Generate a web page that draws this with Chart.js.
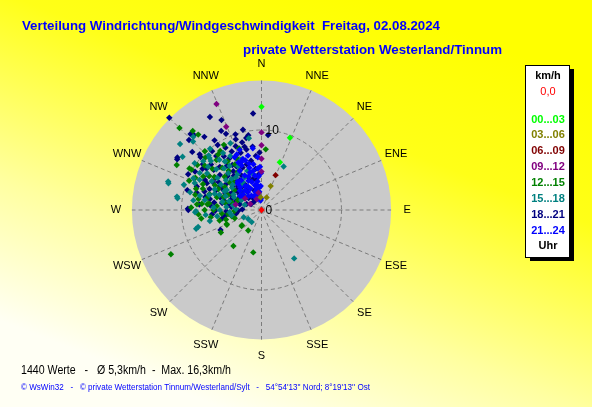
<!DOCTYPE html>
<html><head><meta charset="utf-8">
<script src="https://cdn.jsdelivr.net/npm/chart.js@4.4.1/dist/chart.umd.min.js"></script>
<style>html,body{margin:0;padding:0;background:#ffff00;overflow:hidden}#wrap{width:592px;height:407px;position:relative}</style>
</head><body><div id="wrap"><canvas id="c"></canvas></div>
<script>
// ---- data (direction in degrees, speed in km/h) ----
const directions = ['N','NNE','NE','ENE','E','ESE','SE','SSE','S','SSW','SW','WSW','W','WNW','NW','NNW'];
const timeLabels = ['00...03','03...06','06...09','09...12','12...15','15...18','18...21','21...24'];
const timeColors = ['#00FF00','#808000','#800000','#800080','#008000','#008080','#000080','#0000FF'];
const speedTicks = [0, 10];
const speedMax = 16.2;
const titleText = 'Verteilung Windrichtung/Windgeschwindigkeit  Freitag, 02.08.2024';
const subtitleText = 'private Wetterstation Westerland/Tinnum';
const statsText = '1440 Werte   -   \u00D8 5,3km/h  -  Max. 16,3km/h';
const creditText = '\u00A9 WsWin32   -   \u00A9 private Wetterstation Tinnum/Westerland/Sylt   -   54\u00B054\'13\'\' Nord; 8\u00B019\'13\'\' Ost';

const calm = [[0,0]];
const h00_03 = [[0,12.9],[21.5,9.7],[21,6.4]];
const h03_06 = [[21,3.2],[22,1.7],[356,1.6]];
const h06_09 = [[22,4.7]];
const h09_12 = [[337,14.4],[337,11.3],[0,9.7],[0,8.1],[0,6.4],[0,4.8],[336,1.5],[305,2.5],[350,2.2],[282,3.3],[298,1.6]];
const h12_15 = [[315,14.5],[319,13.1],[320,12.3],[298,12.0],[300,10.4],[292,9.75],[266,7.9],[4,7.6],[244,12.6],[218,5.7],[191,5.4],[241,5.8],[247,4.7],[255,4.6],[253,3.5],[231,3.2],[213,3.05],[283,8.5],[288,8.6],[276,7.5],[270,7.1],[277,6.6],[275,8.1],[300,10.1],[232,3.1],[248,4.7],
 [310,8.0],[305,7.2],[298,6.6],[318,8.4],[325,7.4],[312,6.2],[302,5.4],[294,4.6],[286,5.8],[282,7.0],[308,9.0],[296,9.2],[315,5.0],[320,6.4],[328,5.6],[290,7.8],[300,8.4],[335,7.0],[340,8.2],[275,5.6],[265,5.0],[262,6.4],[330,9.4],[316,10.2],
 [303,7.8],[296,6.0],[289,5.0],[281,4.6],[276,6.8],[270,6.0],[263,4.2],[258,3.8],[268,3.4],[284,3.8],[292,3.2],[306,4.2],[311,5.2],[317,7.2],[322,8.8],[313,9.6],[305,9.8],[294,8.0],[287,6.8],[280,8.0],[272,8.8],[262,7.6],[256,5.4],[300,3.0],[325,9.0],[330,6.6]];
const h15_18 = [[317,12.5],[315,12.1],[309,13.1],[304,11.9],[287,12.2],[279,10.7],[255,8.2],[310,9.5],[316,9.5],[27,6.1],[146,7.3],[286,12.1],[288,10.2],[295,9.4],[283,7.9],[269,8.2],[219,1.95],[248,2.4],[236,2.0],[350,9.1],[278,10.6],[268,8.3],[254,8.5],
 [320,8.2],[326,8.6],[312,7.6],[318,7.0],[324,6.8],[330,7.8],[306,6.8],[300,7.2],[294,6.4],[310,5.8],[316,5.4],[322,5.2],[300,5.0],[307,4.6],[290,5.6],[286,6.8],[296,8.6],[304,8.2],[314,8.8],[332,6.2],[338,6.8],[326,4.2],[313,3.6],[295,3.8],[282,5.0],[280,7.2],[335,9.2],[320,10.0],[305,10.2],[292,9.0],[275,4.4],[340,5.2],[345,4.8],
 [302,6.0],[297,5.2],[291,4.8],[285,4.2],[279,3.6],[272,3.2],[266,4.0],[262,5.6],[273,6.0],[278,8.6],[284,9.2],[289,6.2],[299,4.0],[305,3.2],[311,4.8],[318,6.2],[323,7.6],[309,8.6],[301,9.0],[315,9.2],[327,5.4],[333,4.6],[310,2.6],[296,2.8],[287,2.2],[270,5.2],[260,3.8],[258,6.6],[265,7.0],[320,4.0]];
const h18_21 = [[315,16.3],[355,12.1],[331,13.3],[336,12.3],[333,11.1],[335,10.5],[341,10.0],[347,10.3],[322,11.6],[310,11.3],[301,12.3],[318,12.6],[314,12.6],[302,12.4],[312,10.4],[326,10.5],[271,9.2],[5,9.4],[350,9.5],[311,10.1],[303,7.9],[282,6.6],[285,8.4],[308,9.3],[270,9.15],[261,4.6],[268,2.9],[269,5.8],[244,5.7],[317,13.0],
 [320,8.8],[325,8.2],[330,9.0],[338,8.6],[344,8.8],[316,7.5],[322,7.0],[328,7.6],[334,7.2],[340,7.6],[346,7.8],[352,8.0],[310,6.8],[318,6.2],[324,6.0],[330,6.3],[336,5.8],[342,6.0],[348,6.3],[354,6.8],[300,6.0],[306,5.5],[312,5.2],[318,4.8],[324,4.6],[330,5.0],[338,4.4],[344,4.0],[350,3.8],[356,4.5],[295,5.0],[302,4.2],[308,3.8],[315,3.4],[322,3.0],[330,3.2],[290,4.0],[298,3.2],[305,2.6],[313,2.2],[325,1.8],[340,2.6],[292,7.0],[298,8.0],[288,7.5],[305,9.0],[312,8.5],[279,6.0],[284,4.8],[276,3.8],[315,6.0],[327,3.9],[352,5.2],[358,7.2],[348,9.2],[300,9.6],
 [305,7.0],[310,7.8],[298,5.5],[293,6.2],[287,5.4],[280,5.0],[275,6.4],[283,7.2],[296,7.6],[303,6.4],[309,4.6],[316,4.2],[321,5.5],[327,6.7],[333,8.2],[290,8.6],[285,9.6],[296,10.2],[275,7.8],[265,6.2],[262,3.2],[272,2.4],[285,2.8],[292,2.0],[300,1.5],[318,1.4],[306,3.4],[313,4.0],[321,3.8],[297,4.4],[289,3.4],[280,4.2],[268,4.4],[258,5.0],[307,8.6],[320,9.6],[326,9.8],[340,9.4],[345,8.2],[300,7.0]];
const h21_24 = [[334,6.6],[336,6.1],[348,5.0],[349,4.4],[341,3.7],[347,2.7],[348,1.9],[323,2.8],[334,4.8],[320,4.6],[356,6.6],[358,5.4],[317,3.9],[303,3.2],[333,7.4],[337,6.5],[342,6.5],[356,2.9],[336,4.0],[333,1.8],[345,3.2],[352,3.6],[355,4.2],[350,5.8],[344,5.5],[339,4.5],[330,3.4],[326,4.5],[353,2.3],[358,3.0],[341,2.4],[331,5.6],[346,7.0],[352,7.8],[340,8.0],[357,1.4],[335,2.0],[310,3.0],[343,4.9],[350,2.8],[355,5.2],[345,6.0],[359,4.6],[340,1.5],[326,3.6],
 [318,4.4],[320,3.2],[312,3.6],[325,2.2],[316,2.4],[306,3.0],[336,7.6],[340,6.8],[333,3.0],[344,2.2],[349,3.2],[354,1.2]];

// ---- helpers ----
const rad = d => d * Math.PI / 180;
const toXY = ([d, s]) => ({ x: s * Math.sin(rad(d)), y: s * Math.cos(rad(d)) });
const groups = [h00_03, h03_06, h06_09, h09_12, h12_15, h15_18, h18_21, h21_24];
// stacking: lower value = drawn later (on top)
const drawOrder = [2, 2, 2, 2, 5, 4, 6, 3];

const datasets = [{ label: '0,0', data: calm.map(toXY), backgroundColor: '#FF0000', order: 0 }];
groups.forEach((g, i) => {
  datasets.push({ label: timeLabels[i], data: g.map(toXY), backgroundColor: timeColors[i], order: drawOrder[i] });
});

function fitText(ctx, text, x, y, width) {
  const w = ctx.measureText(text).width;
  ctx.save();
  ctx.translate(x, y);
  ctx.scale(width / w, 1);
  ctx.textAlign = 'left';
  ctx.fillText(text, 0, 0);
  ctx.restore();
}

const decor = {
  id: 'decor',
  beforeDraw(chart) {
    const { ctx, width, height } = chart;
    const g = ctx.createLinearGradient(380, 0, 220, height);
    g.addColorStop(0, '#FFFF00');
    g.addColorStop(0.3, '#FFFF18');
    g.addColorStop(0.7, '#FFFFA0');
    g.addColorStop(1, '#FFFFF4');
    ctx.save();
    ctx.fillStyle = g;
    ctx.fillRect(0, 0, width, height);
    ctx.restore();
  },
  beforeDatasetsDraw(chart) {
    const { ctx } = chart;
    const xs = chart.scales.x, ys = chart.scales.y;
    const cx = xs.getPixelForValue(0), cy = ys.getPixelForValue(0);
    const R = xs.getPixelForValue(speedMax) - cx;
    ctx.save();
    ctx.fillStyle = '#CACACA';
    ctx.beginPath(); ctx.arc(cx, cy, R, 0, Math.PI * 2); ctx.fill();
    ctx.strokeStyle = '#7c7c7c';
    ctx.lineWidth = 1;
    ctx.setLineDash([4, 3]);
    directions.forEach((_, i) => {
      const a = rad(i * 22.5);
      ctx.beginPath();
      ctx.moveTo(cx, cy);
      ctx.lineTo(cx + R * Math.sin(a), cy - R * Math.cos(a));
      ctx.stroke();
    });
    speedTicks.forEach(t => {
      if (t <= 0) return;
      const r = xs.getPixelForValue(t) - cx;
      ctx.beginPath(); ctx.arc(cx, cy, r, 0, Math.PI * 2); ctx.stroke();
    });
    ctx.setLineDash([]);
    ctx.fillStyle = '#000';
    ctx.font = '11px "Liberation Sans", Arial, sans-serif';
    ctx.textAlign = 'center';
    ctx.textBaseline = 'middle';
    directions.forEach((d, i) => {
      const a = rad(i * 22.5);
      const rr = R + 16;
      ctx.fillText(d, cx + rr * Math.sin(a), cy - rr * Math.cos(a));
    });
    ctx.restore();
  },
  afterDatasetsDraw(chart) {
    const { ctx } = chart;
    const xs = chart.scales.x, ys = chart.scales.y;
    const cx = xs.getPixelForValue(0);
    ctx.save();
    ctx.fillStyle = '#000';
    ctx.font = '12px "Liberation Sans", Arial, sans-serif';
    ctx.textAlign = 'left';
    ctx.textBaseline = 'middle';
    speedTicks.forEach(t => {
      ctx.fillText(String(t), cx + 4, ys.getPixelForValue(t) + 0.5);
    });
    ctx.restore();
  },
  afterDraw(chart) {
    const { ctx } = chart;
    ctx.save();
    ctx.textBaseline = 'alphabetic';
    ctx.fillStyle = '#0000FF';
    ctx.font = 'bold 13px "Liberation Sans", Arial, sans-serif';
    fitText(ctx, titleText, 22, 29.5, 418);
    fitText(ctx, subtitleText, 243, 53.5, 259);
    ctx.fillStyle = '#000';
    ctx.font = '12px "Liberation Sans", Arial, sans-serif';
    fitText(ctx, statsText, 21, 373.5, 210);
    ctx.fillStyle = '#0000FF';
    ctx.font = '9px "Liberation Sans", Arial, sans-serif';
    fitText(ctx, creditText, 21, 389.5, 349);
    ctx.fillStyle = '#000';
    ctx.fillRect(530, 69, 44, 192);
    ctx.fillStyle = '#FFF';
    ctx.fillRect(525.5, 65.5, 44, 192);
    ctx.strokeStyle = '#000';
    ctx.lineWidth = 1;
    ctx.strokeRect(525.5, 65.5, 44, 192);
    ctx.textAlign = 'center';
    ctx.textBaseline = 'middle';
    const lx = 548;
    ctx.font = 'bold 11px "Liberation Sans", Arial, sans-serif';
    ctx.fillStyle = '#000';
    ctx.fillText('km/h', lx, 75.5);
    ctx.font = '11px "Liberation Sans", Arial, sans-serif';
    ctx.fillStyle = '#FF0000';
    ctx.fillText(datasets[0].label, lx, 91.5);
    ctx.font = 'bold 11px "Liberation Sans", Arial, sans-serif';
    timeLabels.forEach((t, i) => {
      ctx.fillStyle = timeColors[i];
      ctx.fillText(t, lx, 119.5 + i * 15.9);
    });
    ctx.fillStyle = '#000';
    ctx.fillText('Uhr', lx, 246);
    ctx.restore();
  }
};

new Chart(document.getElementById('c'), {
  type: 'scatter',
  data: { datasets },
  options: {
    responsive: true,
    maintainAspectRatio: false,
    animation: false,
    devicePixelRatio: 1,
    layout: { padding: { left: 117.5, right: 186.5, top: 66, bottom: 53 } },
    elements: { point: { pointStyle: 'rectRot', radius: 3.2, borderWidth: 0, hoverRadius: 3.2 } },
    plugins: { legend: { display: false }, tooltip: { enabled: false }, title: { display: false } },
    scales: {
      x: { type: 'linear', min: -18, max: 18, display: false },
      y: { type: 'linear', min: -18, max: 18, display: false }
    }
  },
  plugins: [decor]
});
</script>
</body></html>
